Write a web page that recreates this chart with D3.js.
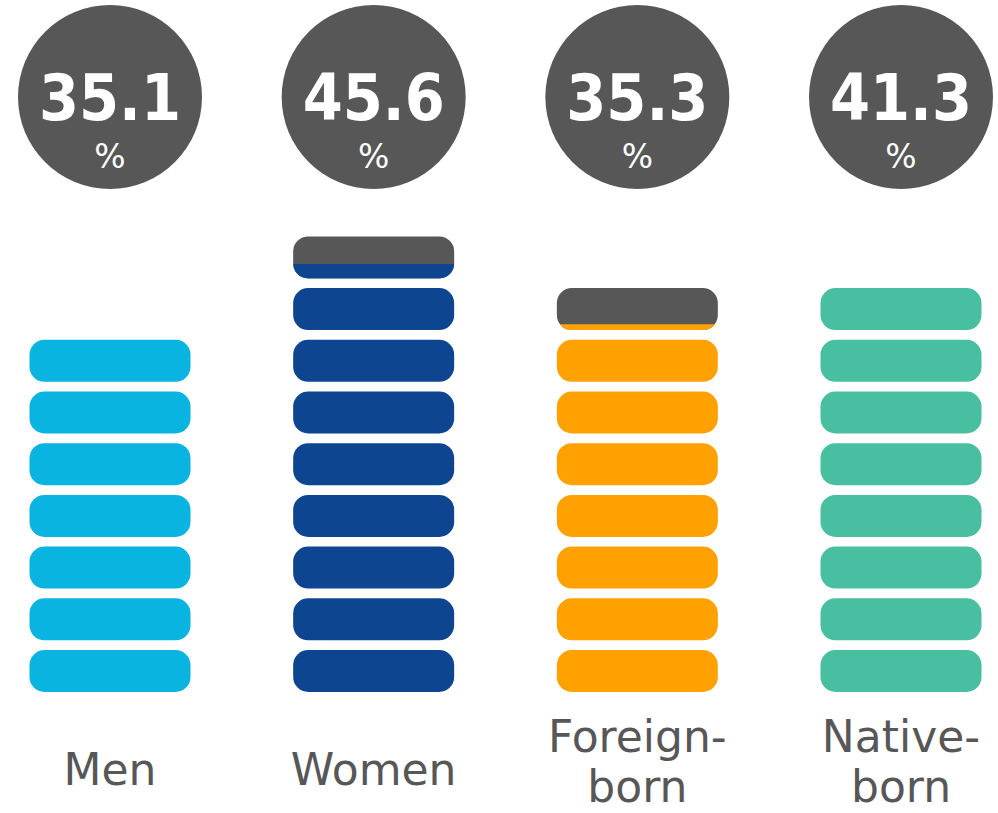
<!DOCTYPE html>
<html>
<head>
<meta charset="utf-8">
<script src="https://cdn.jsdelivr.net/npm/d3@7"></script>
<style>
  body { margin: 0; background: #fff; }
  svg { display: block; }
</style>
</head>
<body>
<div class="vizcontainer"></div>
<script>
const width = 998, height = 813;

const categories = ["Men", "Women", "Foreign-born", "Native-born"];
const labelLines = [["Men"], ["Women"], ["Foreign-", "born"], ["Native-", "born"]];
const values = [35.1, 45.6, 35.3, 41.3];
// pills as drawn in the picture: full pills, then share of the top pill that is coloured
const fullPills = [7, 8, 7, 8];
const partialShare = [0, 0.34, 0.14, 0];
const colors = ["#0ab4e0", "#0e4591", "#ffa100", "#48bfa0"];
const grey = "#575757";

const pill = { w: 161, h: 42, r: 15 };
const circle = { cy: 97, r: 92 };

var svgCanvas = d3.select(".vizcontainer")
  .append("svg")
  .attr("width", width)
  .attr("height", height);

var x = d3.scalePoint()
  .domain(categories)
  .range([110, 901]);

// pill index -> bottom edge of that pill
var y = d3.scaleLinear()
  .domain([0, 1])
  .range([692, 640.3]);

var cols = svgCanvas.selectAll("g.col")
  .data(categories)
  .enter()
  .append("g")
  .attr("class", "col")
  .attr("transform", d => "translate(" + x(d) + ",0)");

// value bubbles
cols.append("circle")
  .attr("cx", 0)
  .attr("cy", circle.cy)
  .attr("r", circle.r)
  .style("fill", grey);

cols.append("text")
  .attr("text-anchor", "middle")
  .attr("y", 120)
  .style("font-family", "'DejaVu Sans Condensed', 'DejaVu Sans', sans-serif")
  .style("font-weight", "bold")
  .style("font-size", "64px")
  .style("fill", "#fff")
  .text((d, i) => values[i].toFixed(1));

cols.append("text")
  .attr("text-anchor", "middle")
  .attr("y", 168)
  .style("font-family", "'DejaVu Sans', sans-serif")
  .style("font-size", "33px")
  .style("fill", "#fff")
  .text("%");

// full pills
cols.each(function (d, ci) {
  var g = d3.select(this);
  g.selectAll("rect.full")
    .data(d3.range(fullPills[ci]))
    .enter()
    .append("rect")
    .attr("class", "full")
    .attr("x", -pill.w / 2)
    .attr("y", i => y(i) - pill.h)
    .attr("width", pill.w)
    .attr("height", pill.h)
    .attr("rx", pill.r)
    .style("fill", colors[ci]);

  if (partialShare[ci] > 0) {
    var k = fullPills[ci];
    var top = y(k) - pill.h;
    var clipId = "clip" + ci;
    var fillH = pill.h * partialShare[ci];
    g.append("clipPath").attr("id", clipId)
      .append("rect")
      .attr("x", -pill.w / 2)
      .attr("y", y(k) - fillH)
      .attr("width", pill.w)
      .attr("height", fillH);
    g.append("rect")
      .attr("x", -pill.w / 2)
      .attr("y", top)
      .attr("width", pill.w)
      .attr("height", pill.h)
      .attr("rx", pill.r)
      .style("fill", grey);
    g.append("rect")
      .attr("x", -pill.w / 2)
      .attr("y", top)
      .attr("width", pill.w)
      .attr("height", pill.h)
      .attr("rx", pill.r)
      .attr("clip-path", "url(#" + clipId + ")")
      .style("fill", colors[ci]);
  }
});

// category labels
cols.append("text")
  .attr("text-anchor", "middle")
  .style("font-family", "'DejaVu Sans', sans-serif")
  .style("font-size", "44px")
  .style("fill", grey)
  .each(function (d, i) {
    var lines = labelLines[i];
    var t = d3.select(this);
    var y0 = lines.length === 1 ? 785 : 752;
    lines.forEach((l, j) => {
      t.append("tspan").attr("x", 0).attr("y", y0 + j * 50).text(l);
    });
  });
</script>
</body>
</html>
